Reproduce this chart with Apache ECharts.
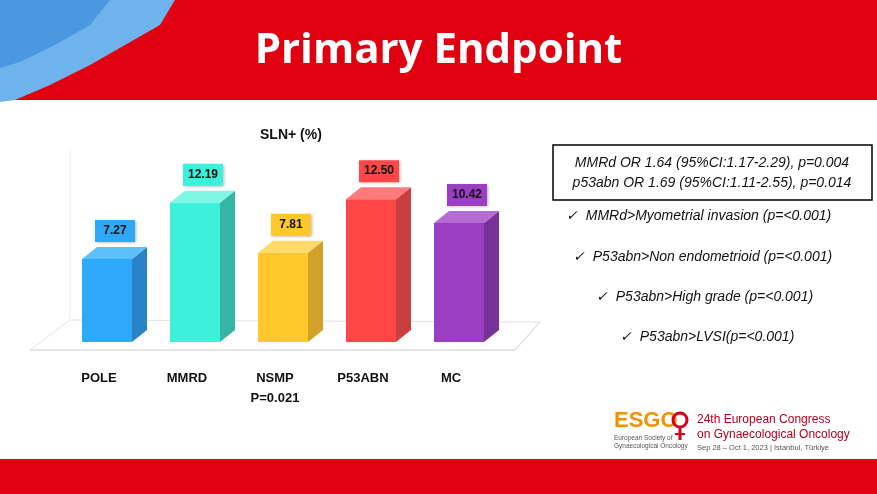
<!DOCTYPE html>
<html><head><meta charset="utf-8">
<script src="https://cdn.jsdelivr.net/npm/echarts@6/dist/echarts.min.js"></script>
<style>html,body{margin:0;padding:0;background:#fff}#c{width:877px;height:494px}</style>
</head><body><div id="c"></div>
<script>
var categories = ['POLE', 'MMRD', 'NSMP\nP=0.021', 'P53ABN', 'MC'];
var values = [7.27, 12.19, 7.81, 12.50, 10.42];
var labels = ['7.27', '12.19', '7.81', '12.50', '10.42'];
var frontColors = ['#2EA8F8', '#3CF0DA', '#FEC82C', '#FF4747', '#9C3EC2'];
var sideColors = ['#2884C6', '#34B5A6', '#D2A228', '#C93E3E', '#7A3199'];
var topColors = ['#5CC0FA', '#7FF6E6', '#FFDA6A', '#FF7A7A', '#B56AD4'];
var notes = [
  '✓  MMRd>Myometrial invasion (p=<0.001)',
  '✓  P53abn>Non endometrioid (p=<0.001)',
  '✓  P53abn>High grade (p=<0.001)',
  '✓  P53abn>LVSI(p=<0.001)'
];

var myChart = echarts.init(document.getElementById('c'));
var dx = 15, dy = -12, half = 25, shift = 8;

var option = {
  animation: false,
  grid: { left: 55, right: 382, top: 182, bottom: 152 },
  xAxis: {
    type: 'category', data: categories,
    axisLine: { show: false }, axisTick: { show: false },
    axisLabel: { margin: 26, fontWeight: 'bold', fontSize: 13, color: '#111', fontFamily: 'Arial', lineHeight: 20, verticalAlign: 'top' }
  },
  yAxis: { type: 'value', min: 0, max: 14, show: false },
  graphic: [
    { type: 'rect', shape: { x: 0, y: 0, width: 877, height: 100 }, style: { fill: '#E0000F' } },
    { type: 'polygon', shape: { points: [[0, 0], [175, 0], [160, 25], [125, 45], [90, 65], [50, 85], [15, 100], [0, 102]] }, style: { fill: '#6FB3EC' } },
    { type: 'polygon', shape: { points: [[0, 0], [110, 0], [90, 25], [55, 45], [20, 62], [0, 68]] }, style: { fill: '#4B98E0' } },
    { type: 'text', left: 'center', top: 30, style: { text: 'Primary Endpoint', fill: '#fff', font: 'bold 42px "Open Sans", Arial' } },
    { type: 'rect', shape: { x: 0, y: 459, width: 877, height: 35 }, style: { fill: '#E0000F' } },
    { type: 'polyline', shape: { points: [[30, 350], [515, 350], [540, 322]] }, style: { stroke: '#ccc', lineWidth: 1, fill: null } },
    { type: 'polyline', shape: { points: [[30, 350], [70, 320], [540, 322]] }, style: { stroke: '#e2e2e2', lineWidth: 1, fill: null } },
    { type: 'polyline', shape: { points: [[70, 320], [70, 150]] }, style: { stroke: '#eee', lineWidth: 1, fill: null } },
    { type: 'text', x: 260, y: 128, style: { text: 'SLN+ (%)', fill: '#111', font: 'bold 14px Arial' } },
    { type: 'rect', shape: { x: 553, y: 145, width: 319, height: 55 }, style: { fill: '#fff', stroke: '#000', lineWidth: 1.5 } },
    { type: 'text', x: 712, y: 163, style: { text: 'MMRd OR 1.64 (95%CI:1.17-2.29), p=0.004', fill: '#111', font: 'italic 14px Arial', align: 'center', verticalAlign: 'middle' } },
    { type: 'text', x: 712, y: 183, style: { text: 'p53abn OR 1.69 (95%CI:1.11-2.55), p=0.014', fill: '#111', font: 'italic 14px Arial', align: 'center', verticalAlign: 'middle' } },
    { type: 'text', x: 566, y: 216, style: { text: notes[0], fill: '#111', font: 'italic 14px Arial', verticalAlign: 'middle' } },
    { type: 'text', x: 573, y: 257, style: { text: notes[1], fill: '#111', font: 'italic 14px Arial', verticalAlign: 'middle' } },
    { type: 'text', x: 596, y: 297, style: { text: notes[2], fill: '#111', font: 'italic 14px Arial', verticalAlign: 'middle' } },
    { type: 'text', x: 620, y: 337, style: { text: notes[3], fill: '#111', font: 'italic 14px Arial', verticalAlign: 'middle' } },
    { type: 'text', x: 614, y: 410, style: { text: 'ESGO', fill: '#F39200', font: 'bold 22px Arial' } },
    { type: 'circle', shape: { cx: 680, cy: 420, r: 7 }, style: { fill: null, stroke: '#D6001C', lineWidth: 3 } },
    { type: 'line', shape: { x1: 680, y1: 427, x2: 680, y2: 440 }, style: { stroke: '#D6001C', lineWidth: 3 } },
    { type: 'line', shape: { x1: 675, y1: 434, x2: 685, y2: 434 }, style: { stroke: '#D6001C', lineWidth: 2 } },
    { type: 'text', x: 614, y: 434, style: { text: 'European Society of\nGynaecological Oncology', fill: '#555', font: '6.5px Arial', lineHeight: 8 } },
    { type: 'text', x: 697, y: 412, style: { text: '24th European Congress\non Gynaecological Oncology', fill: '#B0001A', font: '12px Arial', lineHeight: 15 } },
    { type: 'text', x: 697, y: 444, style: { text: 'Sep 28 – Oct 1, 2023 | Istanbul, Türkiye', fill: '#555', font: '7.5px Arial' } }
  ],
  series: [{
    type: 'custom',
    data: values.map(function (v, i) { return [i, v]; }),
    encode: { x: 0, y: 1 },
    renderItem: function (params, api) {
      var i = params.dataIndex;
      var top = api.coord([api.value(0), api.value(1)]);
      var base = api.coord([api.value(0), 0]);
      var x0 = top[0] + shift - half, x1 = top[0] + shift + half;
      var yt = top[1], yb = base[1];
      return {
        type: 'group',
        children: [
          { type: 'polygon', shape: { points: [[x1, yt], [x1 + dx, yt + dy], [x1 + dx, yb + dy], [x1, yb]] }, style: { fill: sideColors[i] } },
          { type: 'polygon', shape: { points: [[x0, yt], [x0 + dx, yt + dy], [x1 + dx, yt + dy], [x1, yt]] }, style: { fill: topColors[i] } },
          { type: 'rect', shape: { x: x0, y: yt, width: x1 - x0, height: yb - yt }, style: { fill: frontColors[i] } },
          { type: 'rect', shape: { x: x0 + 13, y: yt - 39, width: 40, height: 22 }, style: { fill: frontColors[i], shadowBlur: 3, shadowColor: 'rgba(0,0,0,0.3)', shadowOffsetX: 1, shadowOffsetY: 1 } },
          { type: 'text', style: { x: x0 + 33, y: yt - 28, text: labels[i], fill: '#111', font: 'bold 12px Arial', align: 'center', verticalAlign: 'middle' } }
        ]
      };
    }
  }]
};
myChart.setOption(option);
</script>
</body></html>
